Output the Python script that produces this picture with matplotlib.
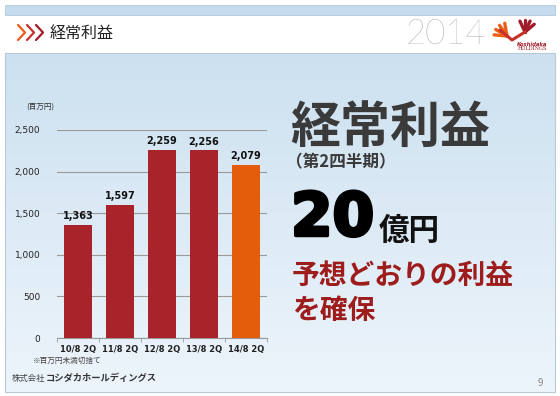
import numpy as np
import matplotlib.pyplot as plt
import matplotlib.patheffects as pe

plt.rcParams['font.family'] = ['Noto Sans CJK JP', 'DejaVu Sans']

# data
periods = ['10/8 2Q', '11/8 2Q', '12/8 2Q', '13/8 2Q', '14/8 2Q']
profit = [1363, 1597, 2259, 2256, 2079]
yticks = [0, 500, 1000, 1500, 2000, 2500]
bar_colors = ['#a8242a', '#a8242a', '#a8242a', '#a8242a', '#e35d0a']

fig = plt.figure(figsize=(5.6, 3.96), dpi=100)
fig.patch.set_facecolor('white')

# background in pixel coords
bg = fig.add_axes([0, 0, 1, 1], zorder=0)
bg.axis('off')

# top strip
bg.add_patch(plt.Rectangle((5, 5), 550, 10, color='#c5dced', ec='#b0c8da', lw=0.6))
# main panel gradient
grad = np.linspace(0, 1, 200).reshape(-1, 1)
top = np.array([0.80, 0.88, 0.94])
bot = np.array([0.93, 0.96, 0.985])
img = top + (bot - top) * grad[..., None]
bg.imshow(img, extent=(5, 555, 392, 53), aspect='auto', zorder=0)
bg.add_patch(plt.Rectangle((5, 53), 550, 339, fill=False, ec='#b8cad8', lw=0.8))
bg.set_xlim(0, 560)
bg.set_ylim(396, 0)

# header chevrons
chev_cols = ['#ef5a1a', '#c8302a', '#a01c2a']
for i, c in enumerate(chev_cols):
    x0 = 18 + i * 9
    bg.plot([x0, x0 + 7, x0], [25, 32.5, 40], color=c, lw=1.6, solid_capstyle='round')
bg.text(50, 33, '経常利益', fontsize=11.5, va='center', ha='left', color='#222222')

# year
bg.text(446, 34, '2014', fontsize=25, va='center', ha='center', color='#8c8c8c',
        fontweight='light', family=['Lato', 'DejaVu Sans'])

# logo (rough hands)
for ang in [100, 125, 150, 175]:
    a = np.deg2rad(ang)
    bg.plot([507, 507 + 13 * np.cos(a)], [36, 36 - 13 * np.sin(a)], color='#e8601a', lw=2.4,
            solid_capstyle='round')
for ang in [40, 65, 90, 115]:
    a = np.deg2rad(ang)
    bg.plot([525, 525 + 12 * np.cos(a)], [32, 32 - 12 * np.sin(a)], color='#a01c2a', lw=2.4,
            solid_capstyle='round')
bg.plot([500, 512, 525], [30, 40, 32], color='#c8302a', lw=2.2, solid_capstyle='round')
bg.text(532, 44, 'Koshidaka', fontsize=3.8, color='#a01c2a', ha='center', va='center',
        fontstyle='italic', fontweight='bold', family=['DejaVu Sans'])
bg.text(532, 49, 'HOLDINGS', fontsize=3.6, color='#a01c2a', ha='center', va='center',
        family=['DejaVu Serif'])

# right side text
bg.text(290, 128, '経常利益', fontsize=36, fontweight='bold', color='#3a3a3a', va='center', ha='left')
bg.text(286, 162, '（第2四半期）', fontsize=12, fontweight='bold', color='#3a3a3a', va='center', ha='left')
bg.text(291, 219, '20', fontsize=43, fontweight='bold', color='#000000', va='center', ha='left',
        family=['DejaVu Sans'],
        path_effects=[pe.withStroke(linewidth=2.5, foreground='#000000')])
bg.text(379, 231, '億円', fontsize=22, fontweight='bold', color='#111111', va='center', ha='left')
bg.text(292, 276, '予想どおりの利益', fontsize=20, fontweight='bold', color='#9e1c1c', va='center', ha='left')
bg.text(292, 311, 'を確保', fontsize=20, fontweight='bold', color='#9e1c1c', va='center', ha='left')

# footer
bg.text(12, 378, '株式会社', fontsize=6, color='#444444', va='center', ha='left')
bg.text(46, 378, 'コシダカホールディングス', fontsize=6.7, fontweight='bold', color='#333333',
        va='center', ha='left')
bg.text(540, 383, '9', fontsize=7, color='#888888', va='center', ha='center')

# chart notes
bg.text(26, 107, '(百万円)', fontsize=5.5, color='#333333', va='center', ha='left')
bg.text(33, 361, '※百万円未満切捨て', fontsize=5.5, color='#444444', va='center', ha='left')

# bar chart
ax = fig.add_axes([57 / 560, (396 - 338) / 396, 210 / 560, 208 / 396], zorder=2)
ax.patch.set_alpha(0)
x = np.arange(len(periods))
bars = ax.bar(x, profit, width=0.66, color=bar_colors, zorder=3)
for xi, v in zip(x, profit):
    ax.text(xi, v + 45, f'{v:,}', ha='center', va='bottom', fontsize=7, fontweight='bold',
            color='#111111', family=['DejaVu Sans'])
ax.set_xlim(-0.5, len(periods) - 0.5)
ax.set_ylim(0, 2500)
ax.set_yticks(yticks)
ax.set_yticklabels([f'{t:,}' for t in yticks], fontsize=6.5, family=['DejaVu Sans'], color='#222222')
ax.set_xticks(x)
ax.set_xticklabels(periods, fontsize=6, fontweight='bold', family=['DejaVu Sans'], color='#222222')
ax.set_xticks(np.arange(-0.5, len(periods)), minor=True)
ax.tick_params(axis='x', which='major', length=0, pad=5)
ax.tick_params(axis='x', which='minor', length=3, color='#999999')
ax.tick_params(axis='y', length=0, pad=12)
ax.yaxis.grid(True, color='#9a9a9a', lw=0.8, zorder=0)
ax.set_axisbelow(True)
for s in ['top', 'right', 'left']:
    ax.spines[s].set_visible(False)
ax.spines['bottom'].set_color('#999999')

fig.savefig('out.png', dpi=100)
